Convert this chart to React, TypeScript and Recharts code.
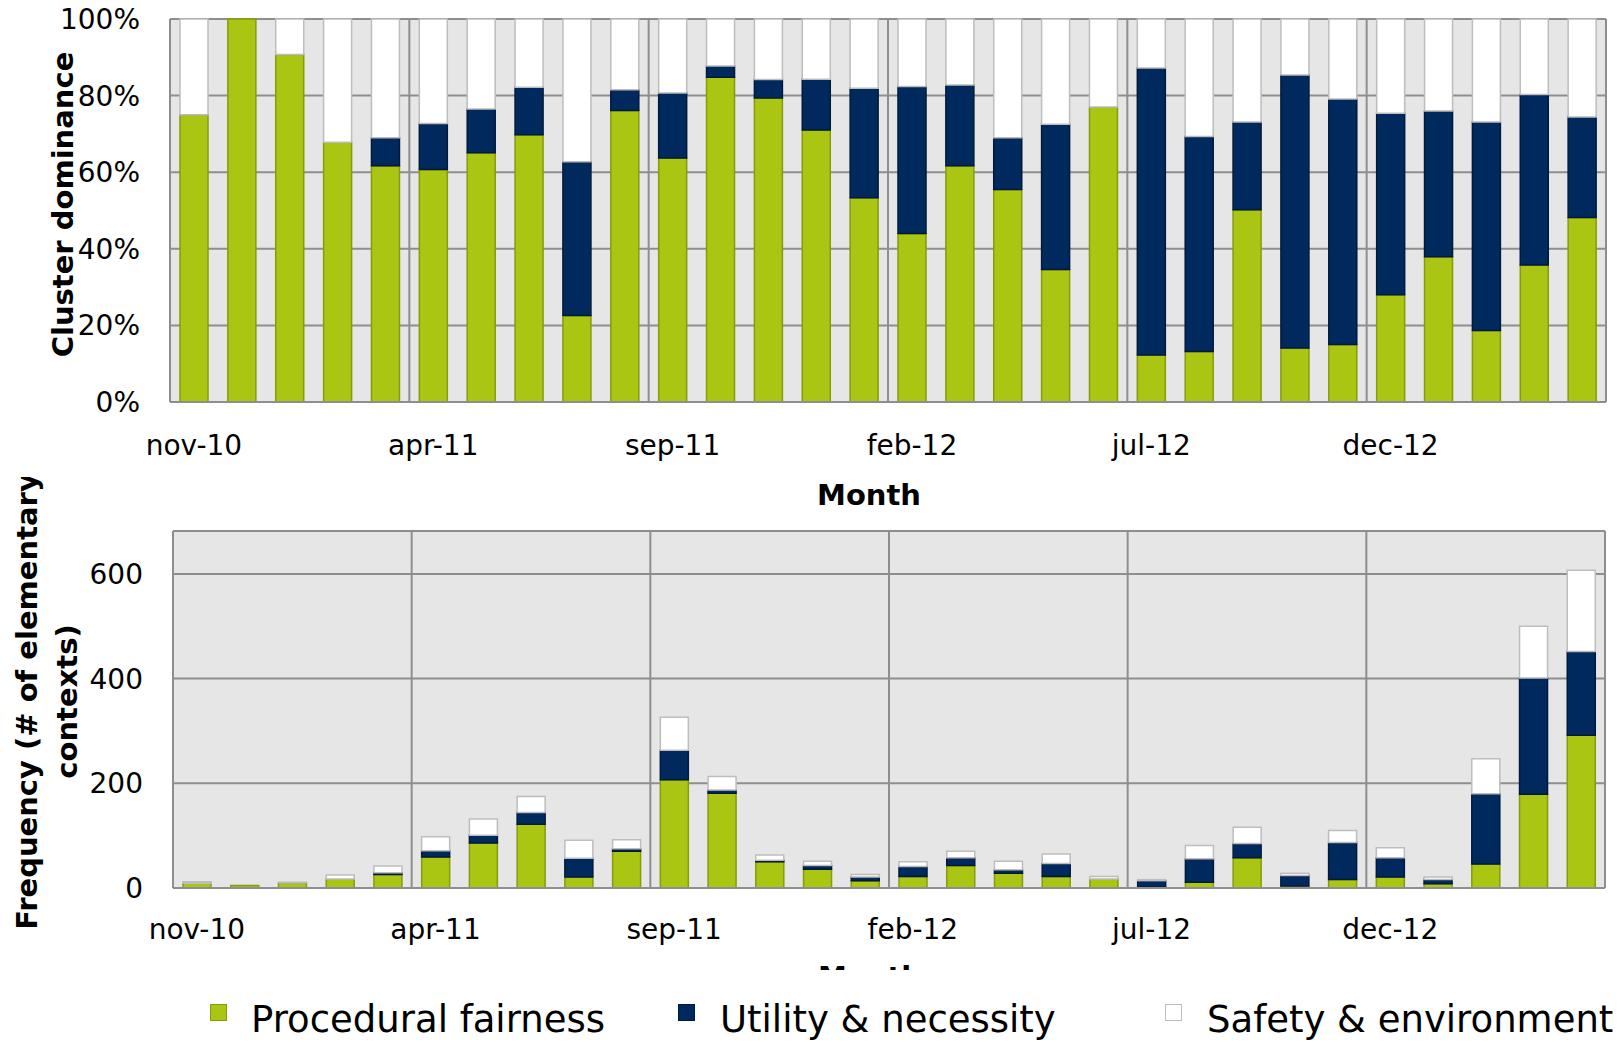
import React from 'react';
import { BarChart, Bar, XAxis, YAxis, CartesianGrid } from 'recharts';

// ---------- data ----------
const months = [
  'nov-10', 'dec-10', 'jan-11', 'feb-11', 'mar-11', 'apr-11', 'may-11', 'jun-11', 'jul-11', 'aug-11',
  'sep-11', 'oct-11', 'nov-11', 'dec-11', 'jan-12', 'feb-12', 'mar-12', 'apr-12', 'may-12', 'jun-12',
  'jul-12', 'aug-12', 'sep-12', 'oct-12', 'nov-12', 'dec-12', 'jan-13', 'feb-13', 'mar-13', 'apr-13',
];

const seriesNames = ['Procedural fairness', 'Utility & necessity', 'Safety & environment'];

// share of each cluster (%) per month
const procShare = [
  75, 100, 90.7, 67.8, 61.7, 60.7, 65.1, 69.8, 22.6, 76.1,
  63.7, 84.8, 79.4, 71.0, 53.3, 44.0, 61.7, 55.5, 34.6, 77.0,
  12.3, 13.2, 50.2, 14.1, 15.0, 28.0, 37.9, 18.7, 35.8, 48.2,
];
const utilShare = [
  0, 0, 0, 0, 7.3, 12.0, 11.4, 12.4, 40.1, 5.4,
  17.0, 2.9, 4.8, 13.3, 28.6, 38.4, 21.1, 13.5, 37.9, 0,
  74.9, 56.1, 22.9, 71.3, 64.1, 47.4, 38.1, 54.4, 44.5, 26.2,
];
const safeShare = [
  25, 0, 9.3, 32.2, 31.0, 27.3, 23.5, 17.8, 37.3, 18.5,
  19.3, 12.3, 15.8, 15.7, 18.1, 17.6, 17.2, 31.0, 27.5, 23.0,
  12.8, 30.7, 26.9, 14.6, 20.9, 24.6, 24.0, 26.9, 19.7, 25.6,
];

// frequency (# of elementary contexts) per month
const procCount = [
  9, 5, 10, 17, 26, 59, 86, 122, 21, 70,
  207, 181, 50, 36, 14, 22, 43, 28, 22, 17,
  2, 11, 58, 4, 16, 21, 8, 46, 179, 292,
];
const utilCount = [
  0, 0, 0, 0, 3, 12, 15, 22, 36, 5,
  56, 6, 3, 7, 7, 19, 15, 7, 25, 0,
  12, 45, 27, 20, 71, 37, 8, 134, 222, 160,
];
const safeCount = [
  3, 0, 1, 8, 13, 27, 31, 31, 34, 17,
  63, 26, 10, 8, 5, 9, 12, 16, 18, 5,
  2, 25, 31, 4, 23, 19, 5, 67, 99, 155,
];

const pctTicks = [0, 20, 40, 60, 80, 100];
const freqTicks = [0, 200, 400, 600];

// ---------- styling ----------
const FONT = 'DejaVu Sans';
const GREEN = '#AAC512';
const GREEN_EDGE = '#8A9A0E';
const NAVY = '#002A5E';
const NAVY_EDGE = '#001A3C';
const SAFE = '#FFFFFF';
const SAFE_EDGE = '#BDBDBD';
const GRID = '#8E8E8E';
const PLOT_BG = '#E6E6E6';

const shareData = months.map((m, i) => ({
  month: m,
  proc: procShare[i],
  util: utilShare[i],
  safe: safeShare[i],
}));
const countData = months.map((m, i) => ({
  month: m,
  proc: procCount[i],
  util: utilCount[i],
  safe: safeCount[i],
}));

const tickStyle = { fontSize: 28, fill: '#000', fontFamily: FONT };

const vGen = (p: any) => {
  const o = p && p.offset ? p.offset : { left: 170, width: 1436 };
  const n = months.length;
  const out: number[] = [];
  for (let i = 0; i <= n; i += 5) out.push(o.left + (o.width * i) / n);
  return out;
};

const seriesBars = [
  { key: 'proc', fill: GREEN, stroke: GREEN_EDGE, name: seriesNames[0] },
  { key: 'util', fill: NAVY, stroke: NAVY_EDGE, name: seriesNames[1] },
  { key: 'safe', fill: SAFE, stroke: SAFE_EDGE, name: seriesNames[2] },
];

const MonthLabel = (dy: number) => (props: any) => {
  const vb = props.viewBox || { x: 170, y: 402, width: 1436 };
  return (
    <text
      x={vb.x + vb.width / 2 - 19}
      y={vb.y + dy}
      textAnchor="middle"
      dominantBaseline="central"
      fontFamily={FONT}
      fontWeight="bold"
      fontSize={29}
      fill="#000"
    >
      Month
    </text>
  );
};

const TopYLabel = (props: any) => {
  const vb = props.viewBox || { x: 0, y: 19, width: 170, height: 383 };
  const cx = 63;
  const cy = vb.y + vb.height / 2 - 6;
  return (
    <text
      x={cx}
      y={cy}
      textAnchor="middle"
      dominantBaseline="central"
      transform={`rotate(-90, ${cx}, ${cy})`}
      fontFamily={FONT}
      fontWeight="bold"
      fontSize={29}
      fill="#000"
    >
      Cluster dominance
    </text>
  );
};

const BottomYLabel = (props: any) => {
  const vb = props.viewBox || { x: 0, y: 91, width: 173, height: 357 };
  const cy = vb.y + vb.height / 2 - 8;
  const lines = [
    { x: 27, t: 'Frequency (# of elementary' },
    { x: 67, t: 'contexts)' },
  ];
  return (
    <g>
      {lines.map((l) => (
        <text
          key={l.t}
          x={l.x}
          y={cy}
          textAnchor="middle"
          dominantBaseline="central"
          transform={`rotate(-90, ${l.x}, ${cy})`}
          fontFamily={FONT}
          fontWeight="bold"
          fontSize={29}
          fill="#000"
        >
          {l.t}
        </text>
      ))}
    </g>
  );
};

export default function App() {
  return (
    <div
      style={{
        position: 'absolute',
        left: 0,
        top: 0,
        width: 1624,
        height: 1043,
        background: '#fff',
        fontFamily: FONT,
        overflow: 'hidden',
      }}
    >
      {/* Top: cluster dominance */}
      <div style={{ position: 'absolute', left: 0, top: 0 }}>
        <BarChart
          width={1624}
          height={520}
          data={shareData}
          margin={{ top: 19, right: 18, bottom: 18, left: 0 }}
          barSize={28}
        >
          <CartesianGrid
            fill={PLOT_BG}
            stroke={GRID}
            strokeWidth={2}
            verticalCoordinatesGenerator={vGen}
          />
          <XAxis
            dataKey="month"
            interval={4}
            height={100}
            tickSize={0}
            tickMargin={33}
            tick={tickStyle}
            axisLine={{ stroke: GRID, strokeWidth: 2 }}
            tickLine={false}
            label={{ content: MonthLabel(93) }}
          />
          <YAxis
            domain={[0, 100]}
            ticks={pctTicks}
            width={170}
            tickSize={0}
            tickMargin={30}
            tick={tickStyle}
            tickFormatter={(v: number) => `${v}%`}
            axisLine={{ stroke: GRID, strokeWidth: 2 }}
            tickLine={false}
            label={{ content: TopYLabel }}
          />
          {seriesBars.map((s) => (
            <Bar
              key={s.key}
              dataKey={s.key}
              name={s.name}
              stackId="a"
              fill={s.fill}
              stroke={s.stroke}
              strokeWidth={1.5}
              isAnimationActive={false}
            />
          ))}
        </BarChart>
      </div>

      {/* Bottom: frequency (clipped like the reference) */}
      <div
        style={{
          position: 'absolute',
          left: 0,
          top: 477,
          width: 1624,
          height: 493,
          overflow: 'hidden',
        }}
      >
        <div style={{ position: 'absolute', left: 0, top: -37 }}>
          <BarChart
            width={1624}
            height={560}
            data={countData}
            margin={{ top: 91, right: 19, bottom: 12, left: 0 }}
            barSize={28}
          >
            <CartesianGrid
              fill={PLOT_BG}
              stroke={GRID}
              strokeWidth={2}
              verticalCoordinatesGenerator={vGen}
            />
            <XAxis
              dataKey="month"
              interval={4}
              height={100}
              tickSize={0}
              tickMargin={31}
              tick={tickStyle}
              axisLine={{ stroke: GRID, strokeWidth: 2 }}
              tickLine={false}
              label={{ content: MonthLabel(89) }}
            />
            <YAxis
              domain={[0, 682]}
              ticks={freqTicks}
              width={173}
              tickSize={0}
              tickMargin={30}
              tick={tickStyle}
              axisLine={{ stroke: GRID, strokeWidth: 2 }}
              tickLine={false}
              allowDataOverflow
              label={{ content: BottomYLabel }}
            />
            {seriesBars.map((s) => (
              <Bar
                key={s.key}
                dataKey={s.key}
                name={s.name}
                stackId="a"
                fill={s.fill}
                stroke={s.stroke}
                strokeWidth={1.5}
                isAnimationActive={false}
              />
            ))}
          </BarChart>
        </div>
      </div>

      {/* Legend */}
      {seriesBars.map((s, i) => {
        const sq = [210, 678, 1165][i];
        const tx = [251, 720, 1207][i];
        return (
          <React.Fragment key={s.key}>
            <div
              style={{
                position: 'absolute',
                left: sq,
                top: 1004,
                width: 15,
                height: 15,
                background: s.fill,
                border: `1.5px solid ${s.stroke}`,
              }}
            />
            <div
              style={{
                position: 'absolute',
                left: tx,
                top: 998,
                fontSize: 37,
                lineHeight: '44px',
                color: '#000',
                fontFamily: FONT,
                whiteSpace: 'nowrap',
              }}
            >
              {s.name}
            </div>
          </React.Fragment>
        );
      })}
    </div>
  );
}
